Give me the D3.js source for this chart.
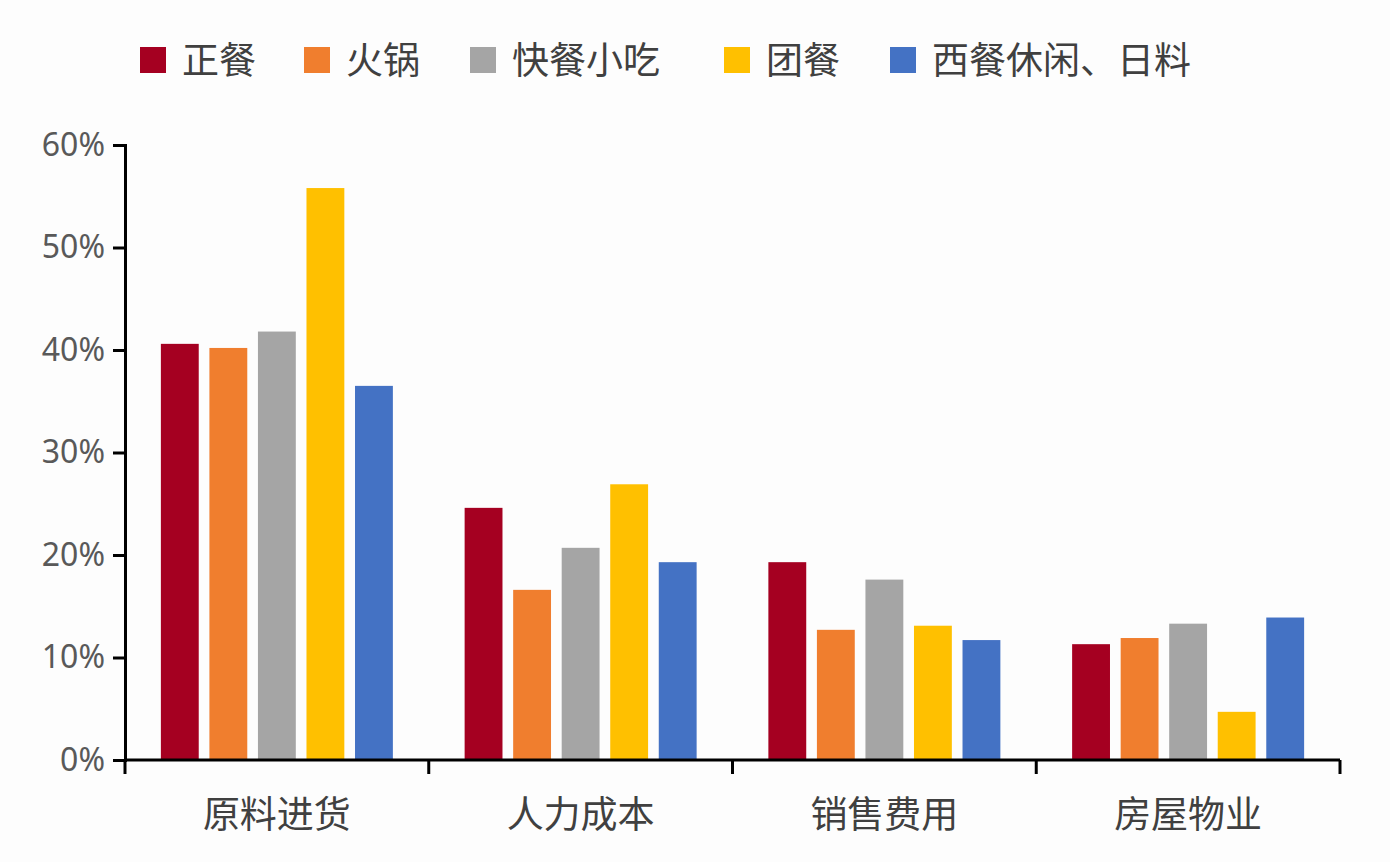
<!DOCTYPE html>
<html><head><meta charset="utf-8">
<script src="https://cdn.jsdelivr.net/npm/d3@7"></script>
<style>body{margin:0;background:#fdfdfd;font-family:"Noto Sans CJK SC","Noto Sans",sans-serif}</style>
</head><body><svg id="chart" width="1390" height="862"></svg>
<script>
// categories and series
const categories = ["原料进货", "人力成本", "销售费用", "房屋物业"];
const seriesNames = ["正餐", "火锅", "快餐小吃", "团餐", "西餐休闲、日料"];
const colors = ["#A50021", "#F07E2E", "#A5A5A5", "#FFC000", "#4472C4"];
const zhengcan = [40.6, 24.6, 19.3, 11.3];
const huoguo = [40.2, 16.6, 12.7, 11.9];
const kuaican = [41.8, 20.7, 17.6, 13.3];
const tuancan = [55.8, 26.9, 13.1, 4.7];
const xican = [36.5, 19.3, 11.7, 13.9];
const yTicks = [0, 10, 20, 30, 40, 50, 60];

const values = [zhengcan, huoguo, kuaican, tuancan, xican];
const svg = d3.select("#chart");
const mLeft = 125, mRight = 1340, mTop = 145, mBottom = 760;

const x = d3.scaleBand().domain(categories).range([mLeft, mRight]);
const xs = d3.scaleBand().domain(seriesNames).range([0, 232]).paddingInner(0.22);
const y = d3.scaleLinear().domain([0, 60]).range([mBottom, mTop]);

// bars
seriesNames.forEach((s, i) => {
  svg.append("g").selectAll("rect").data(categories).join("rect")
    .attr("x", c => x(c) + x.bandwidth() / 2 - 116 + xs(s))
    .attr("width", xs.bandwidth())
    .attr("y", (c, j) => y(values[i][j]))
    .attr("height", (c, j) => mBottom - y(values[i][j]))
    .attr("fill", colors[i]);
});

// y axis
const yAxis = svg.append("g").attr("transform", `translate(${mLeft},0)`)
  .call(d3.axisLeft(y).tickValues(yTicks).tickFormat(d => d + "%").tickSize(12).tickPadding(8));
yAxis.selectAll("text").attr("font-size", 32).attr("fill", "#595959").attr("font-family", "Noto Sans");
yAxis.select(".domain").attr("stroke", "#000").attr("stroke-width", 3);
yAxis.selectAll("line").attr("stroke", "#000").attr("stroke-width", 3);

// x axis
const xg = svg.append("g").attr("transform", `translate(0,${mBottom})`);
xg.append("line").attr("x1", mLeft).attr("x2", mRight).attr("stroke", "#000").attr("stroke-width", 3);
xg.selectAll(".t").data(d3.range(categories.length + 1)).join("line")
  .attr("x1", i => mLeft + i * x.step()).attr("x2", i => mLeft + i * x.step())
  .attr("y1", 0).attr("y2", 14).attr("stroke", "#000").attr("stroke-width", 3);
xg.selectAll("text").data(categories).join("text")
  .attr("x", c => x(c) + x.bandwidth() / 2).attr("y", 68)
  .attr("text-anchor", "middle").attr("font-size", 37).attr("fill", "#404040").text(c => c);

// legend
const legendX = [140, 304, 470, 724, 890];
const lg = svg.append("g");
seriesNames.forEach((s, i) => {
  lg.append("rect").attr("x", legendX[i]).attr("y", 47).attr("width", 26).attr("height", 26).attr("fill", colors[i]);
  lg.append("text").attr("x", legendX[i] + 42).attr("y", 74).attr("font-size", 37).attr("fill", "#404040").text(s);
});
</script></body></html>
